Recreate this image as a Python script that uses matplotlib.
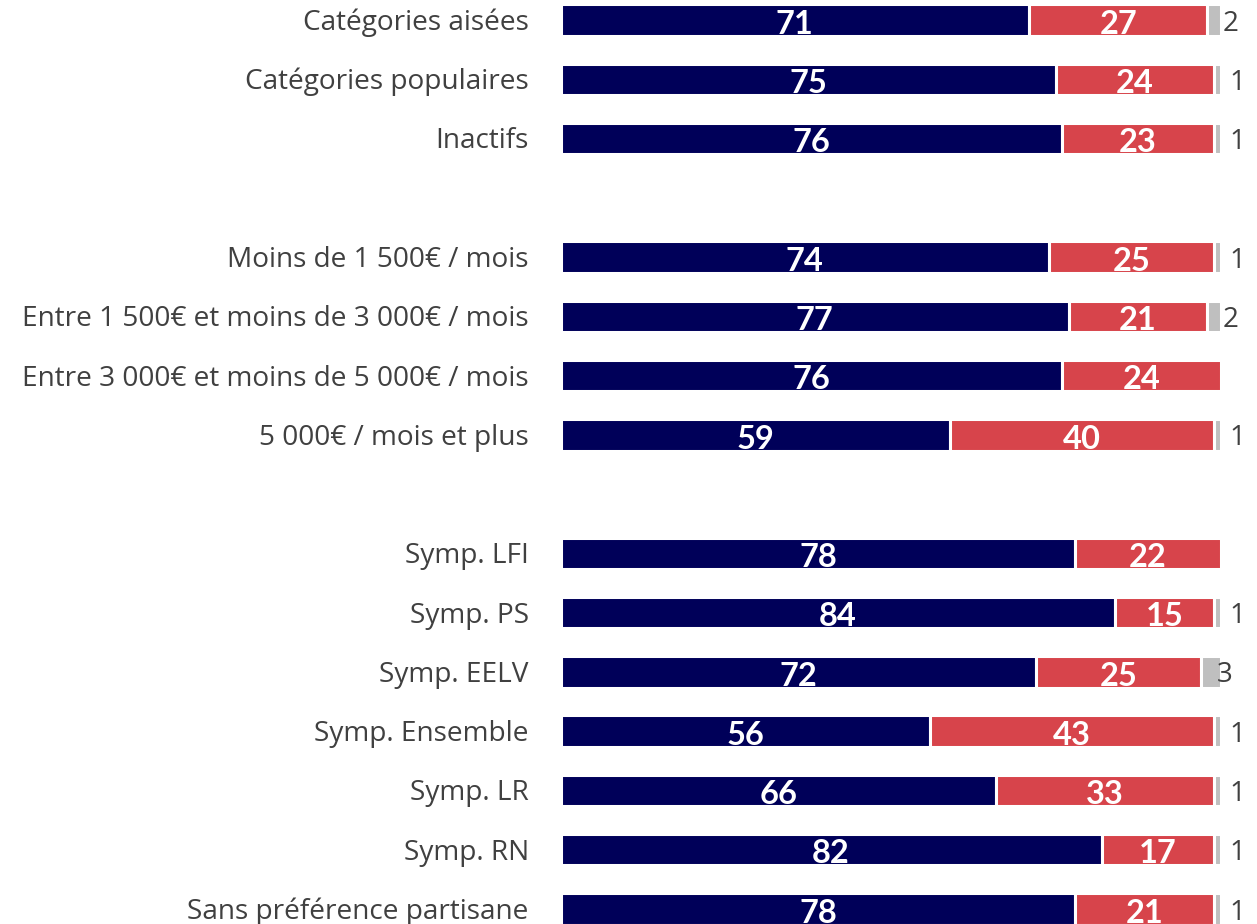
import matplotlib
matplotlib.use("Agg")
import matplotlib.pyplot as plt

# categories, top to bottom; None marks the blank row between groups
labels = [
    "Catégories aisées", "Catégories populaires", "Inactifs", None,
    "Moins de 1 500€ / mois", "Entre 1 500€ et moins de 3 000€ / mois",
    "Entre 3 000€ et moins de 5 000€ / mois", "5 000€ / mois et plus", None,
    "Symp. LFI", "Symp. PS", "Symp. EELV", "Symp. Ensemble", "Symp. LR",
    "Symp. RN", "Sans préférence partisane",
]
oui = [71, 75, 76, None, 74, 77, 76, 59, None, 78, 84, 72, 56, 66, 82, 78]
non = [27, 24, 23, None, 25, 21, 24, 40, None, 22, 15, 25, 43, 33, 17, 21]
nsp = [2, 1, 1, None, 1, 2, 0, 1, None, 0, 1, 3, 1, 1, 1, 1]

BLUE = "#000059"
RED = "#D7444B"
GREY = "#BFBFBF"
TXT = "#404040"

fig = plt.figure(figsize=(12.57, 9.24), dpi=100)
ax = fig.add_axes([560.5 / 1257, 0, 660 / 1257, 1])

h = 0.53
for i, lab in enumerate(labels):
    if lab is None:
        continue
    a, b, c = oui[i], non[i], nsp[i]
    ax.barh(i, a, height=h, color=BLUE, edgecolor="white", linewidth=2.2)
    ax.barh(i, b, left=a, height=h, color=RED, edgecolor="white", linewidth=2.2)
    ax.text(a / 2, i + 0.07, str(a), ha="center", va="center", color="white",
            fontsize=23.5, fontweight="bold", family="Lato")
    ax.text(a + b / 2, i + 0.07, str(b), ha="center", va="center", color="white",
            fontsize=23.5, fontweight="bold", family="Lato")
    if c:
        ax.barh(i, c, left=a + b, height=h, color=GREY, edgecolor="white", linewidth=2.2)
        ax.text(a + b + 3.6, i + 0.06, str(c), ha="center", va="center", color=TXT,
                fontsize=20, family="Open Sans")
    ax.text(-4.8, i + 0.05, lab, ha="right", va="center", color=TXT, fontsize=20.2,
            family="Open Sans", clip_on=False)

ax.set_xlim(0, 100)
ax.set_ylim(15 + 15 / 59.27, -20 / 59.27)
ax.axis("off")

fig.savefig("out.png", dpi=100)
